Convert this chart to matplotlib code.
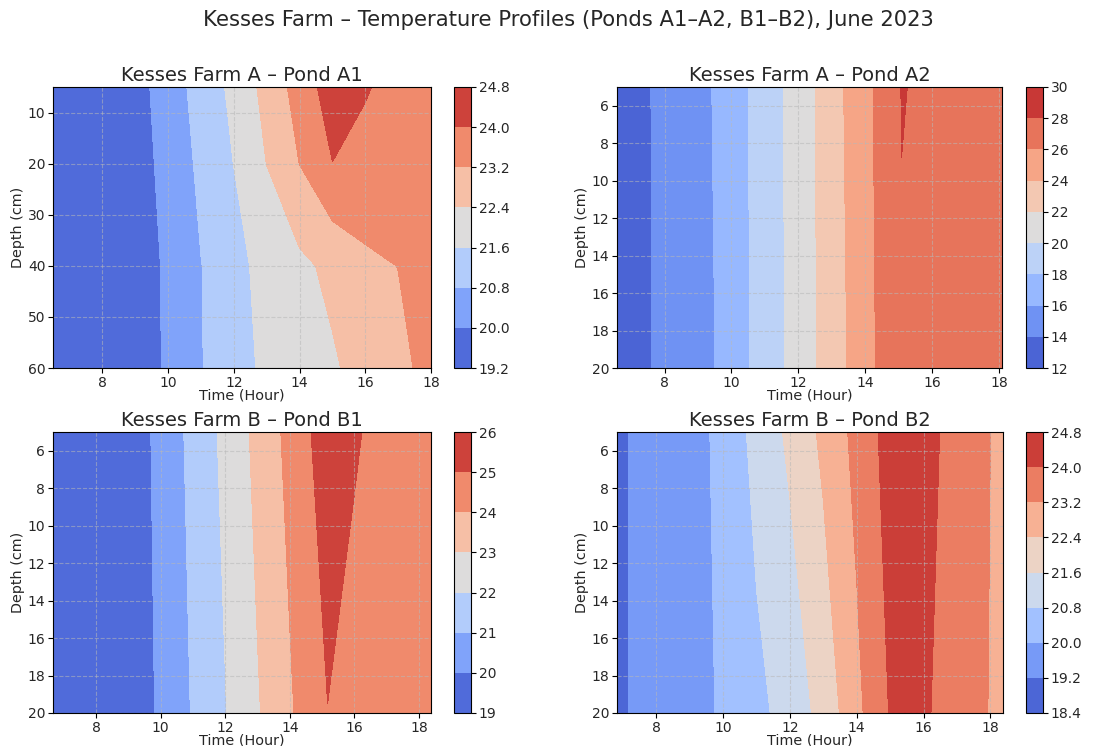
import matplotlib
matplotlib.use("Agg")
import matplotlib.pyplot as plt
import numpy as np

# ---------------- data ----------------
a1_times = [6.5, 8, 9, 10, 11, 12, 13, 14, 15, 16, 17, 18]
a1_depths = [5, 20, 40, 60]
a1_d05 = [19.4, 19.6, 19.8, 20.25, 21.21, 21.75, 22.68, 23.505, 24.42, 24.05, 23.79, 23.7]
a1_d20 = [19.4, 19.55, 19.75, 20.18, 20.985, 21.61, 22.408, 23.21, 23.99, 23.8, 23.7, 23.6]
a1_d40 = [19.35, 19.5, 19.7, 20.09, 20.78, 21.3, 21.925, 22.23, 22.58, 23.04, 23.21, 23.4]
a1_d60 = [19.3, 19.45, 19.65, 20.09, 20.77, 21.2, 21.8, 22.05, 22.3, 22.7, 23.0, 23.44]
a1_levels = [19.2, 20.0, 20.8, 21.6, 22.4, 23.2, 24.0, 24.8]

a2_times = [6.58, 7.5, 8.5, 9.5, 10.5, 11.5, 12.5, 13.5, 14.5, 15.08, 16, 17, 18.08]
a2_depths = [5, 20]
a2_d05 = [12.9, 13.9, 14.97, 16.1, 18.0, 19.9, 22.0, 24.35, 26.6, 28.05, 27.78, 27.6, 27.5]
a2_d20 = [12.9, 13.87, 14.94, 15.99, 17.9, 19.81, 21.9, 24.12, 26.47, 27.85, 27.6, 27.4, 27.3]
a2_levels = [12, 14, 16, 18, 20, 22, 24, 26, 28, 30]

b1_times = [6.67, 8, 9, 10, 11, 12, 13, 14, 15.17, 16, 17, 18.37]
b1_depths = [5, 20]
b1_d05 = [19.3, 19.5, 19.7, 20.13, 21.34, 22.22, 23.27, 24.28, 25.56, 25.2, 24.33, 24.3]
b1_d20 = [19.25, 19.45, 19.65, 20.08, 21.08, 21.96, 22.91, 23.88, 24.98, 24.29, 24.3, 24.3]
b1_levels = [19, 20, 21, 22, 23, 24, 25, 26]

b2_times = [6.82, 8, 9, 10, 11, 12, 13, 14, 15, 16, 17, 18.38]
b2_depths = [5, 20]
b2_d05 = [19.0, 19.7, 19.85, 20.10, 21.11, 21.74, 22.58, 23.43, 24.32, 24.15, 23.84, 22.96]
b2_d20 = [19.0, 19.7, 19.85, 20.05, 20.56, 21.15, 21.85, 23.0, 24.05, 24.1, 23.65, 22.98]
b2_levels = [18.4, 19.2, 20.0, 20.8, 21.6, 22.4, 23.2, 24.0, 24.8]

suptitle = "Kesses Farm \u2013 Temperature Profiles (Ponds A1\u2013A2, B1\u2013B2), June 2023"
titles = ["Kesses Farm A \u2013 Pond A1", "Kesses Farm A \u2013 Pond A2",
          "Kesses Farm B \u2013 Pond B1", "Kesses Farm B \u2013 Pond B2"]

panels = [
    (a1_times, a1_depths, [a1_d05, a1_d20, a1_d40, a1_d60], a1_levels),
    (a2_times, a2_depths, [a2_d05, a2_d20], a2_levels),
    (b1_times, b1_depths, [b1_d05, b1_d20], b1_levels),
    (b2_times, b2_depths, [b2_d05, b2_d20], b2_levels),
]

# ---------------- layout (pixels) ----------------
W, H = 1109, 746
fig = plt.figure(figsize=(W / 100, H / 100), dpi=100)

def px_axes(l, t, r, b):
    return fig.add_axes([l / W, 1 - b / H, (r - l) / W, (b - t) / H])

ax_boxes = [(53, 87, 431, 368), (617, 87, 1002, 368),
            (53, 432, 431, 713), (617, 432, 1003, 713)]
cb_boxes = [(454, 87, 471, 368), (1026, 87, 1043, 368),
            (454, 432, 471, 713), (1026, 432, 1043, 713)]

text_color = "#262626"
for (times, depths, rows, levels), title, abox, cbox in zip(panels, titles, ax_boxes, cb_boxes):
    ax = px_axes(*abox)
    X, Y = np.meshgrid(times, depths)
    Z = np.array(rows)
    cs = ax.contourf(X, Y, Z, levels=levels, cmap="coolwarm")
    ax.invert_yaxis()
    ax.set_title(title, fontsize=14, pad=4, color=text_color)
    ax.set_xlabel("Time (Hour)", fontsize=10.4, labelpad=-1, color=text_color)
    ax.set_ylabel("Depth (cm)", fontsize=10.4, labelpad=2, color=text_color)
    ax.tick_params(labelsize=10, length=3.5, pad=2, labelcolor=text_color)
    ax.set_xticks([8, 10, 12, 14, 16, 18])
    ax.grid(True, linestyle="--", color="#b8b8b8", alpha=0.55, linewidth=0.8)
    cax = px_axes(*cbox)
    cb = fig.colorbar(cs, cax=cax)
    cb.set_ticks(levels)
    cb.ax.tick_params(labelsize=10, length=3.5, pad=2, labelcolor=text_color)

fig.suptitle(suptitle, fontsize=15.2, x=0.513, y=1 - 20 / H, va="center", color=text_color)
fig.savefig("out.png", dpi=100)
